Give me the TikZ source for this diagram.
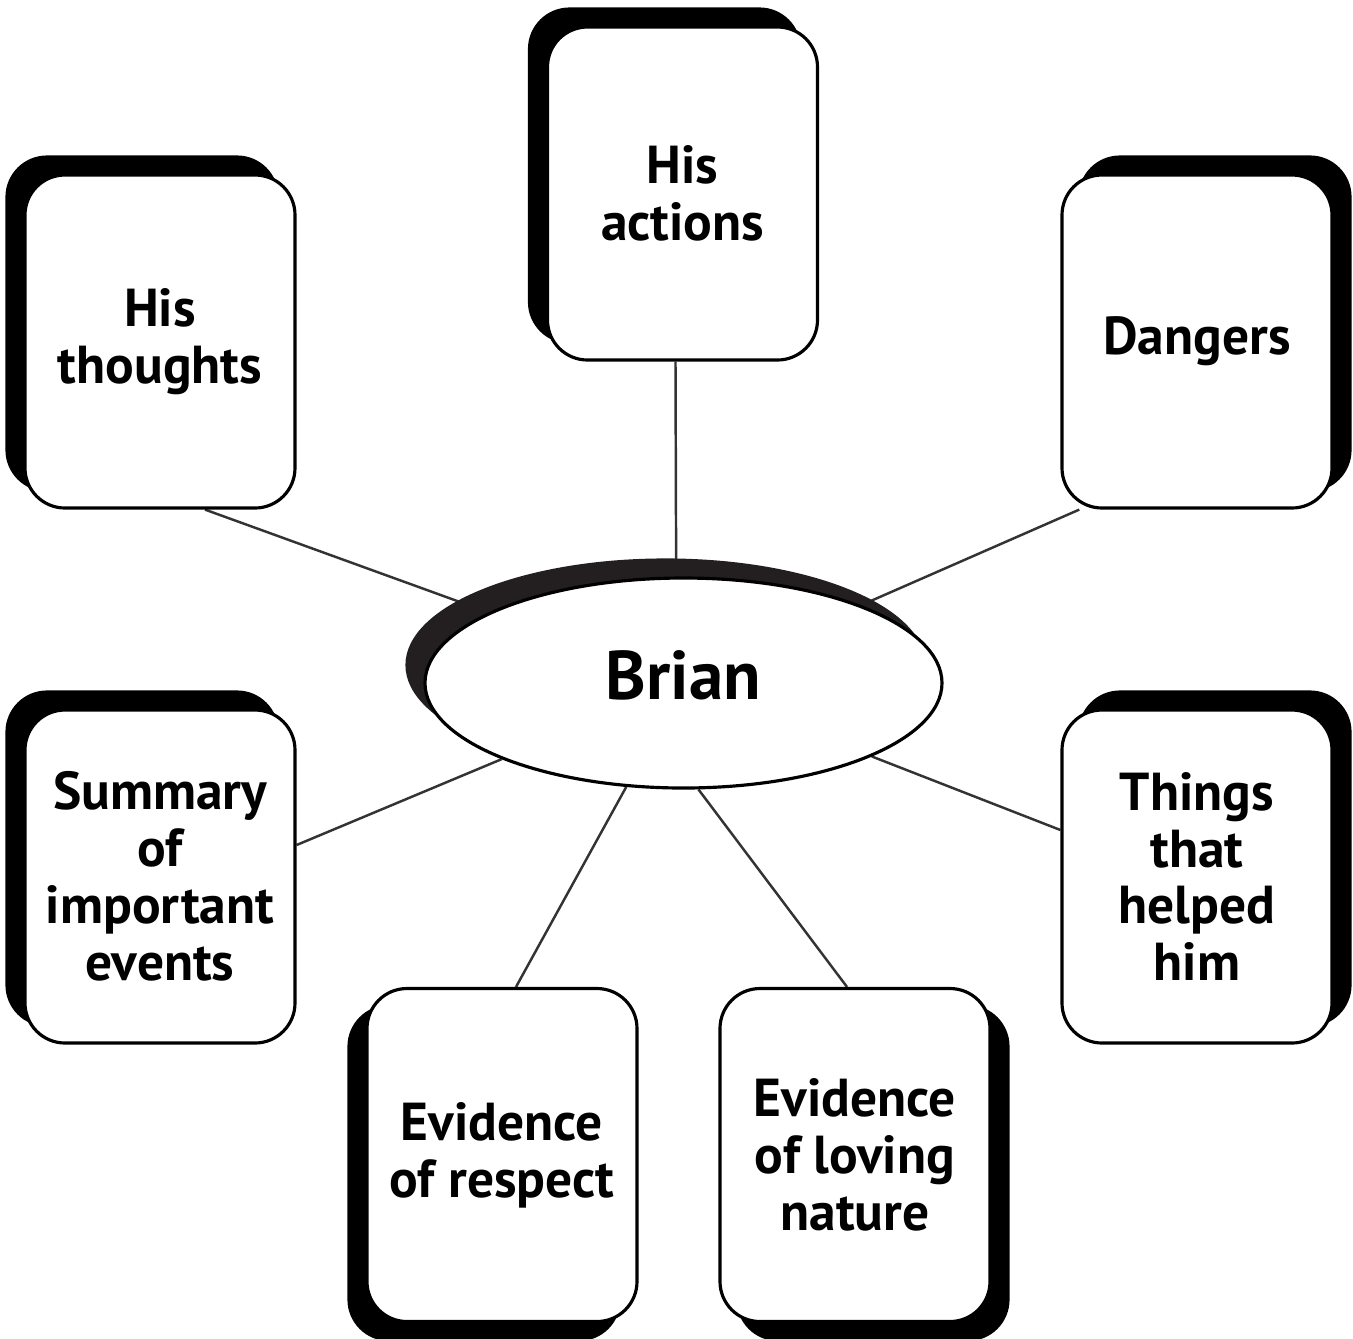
\documentclass[tikz,border=0pt]{standalone}
\usepackage{fontspec}
\setmainfont{PT Sans}
\usepackage{tikz}
\usetikzlibrary{
        backgrounds,
        shadows,
        shapes.geometric
    }
\definecolor{shadowgray}{HTML}{231F20}
\definecolor{linegray}{HTML}{333333}
\tikzset{
    topic/.style={draw, line width=0.9pt, fill=white, rounded corners=0.4cm,
        minimum width=2.7cm, minimum height=3.33cm, inner sep=0pt,
        align=center, font=\fontsize{15.2}{16.2}\selectfont\bfseries},
    shade ul/.style={copy shadow={shadow xshift=-0.18cm, shadow yshift=0.18cm, fill=black, draw=black}},
    shade ur/.style={copy shadow={shadow xshift=0.18cm, shadow yshift=0.18cm, fill=black, draw=black}},
    shade dl/.style={copy shadow={shadow xshift=-0.18cm, shadow yshift=-0.18cm, fill=black, draw=black}},
    shade dr/.style={copy shadow={shadow xshift=0.18cm, shadow yshift=-0.18cm, fill=black, draw=black}},
    hub/.style={ellipse, draw, line width=0.9pt, fill=white, inner sep=0pt,
        minimum width=5.17cm, minimum height=2.10cm,
        font=\fontsize{19.6}{22}\selectfont\bfseries,
        copy shadow={shadow xshift=-0.18cm, shadow yshift=0.18cm, fill=shadowgray, draw=shadowgray}},
    spoke/.style={draw=linegray, line width=0.7pt}
}

\begin{document}
\begin{tikzpicture}[]
    \useasboundingbox (0,0) rectangle (13.53,-13.38);
        \node[hub] (brian) at (6.835,-6.83) {\raisebox{0.16cm}{Brian}};
        \node[topic,shade ul] (thoughts) at (1.60,-3.415)  {His\\thoughts};
        \node[topic,shade ul] (actions)  at (6.825,-1.935) {His\\actions};
        \node[topic,shade ur] (dangers)  at (11.97,-3.415) {Dangers};
        \node[topic,shade ul] (summary)  at (1.60,-8.765)  {Summary\\of\\important\\events};
        \node[topic,shade ur] (things)   at (11.97,-8.765) {Things\\that\\helped\\him};
        \node[topic,shade dl] (respect)  at (5.02,-11.55)  {Evidence\\of respect};
        \node[topic,shade dr] (loving)   at (8.55,-11.55)  {Evidence\\of loving\\nature};
        % spokes behind everything
        \begin{scope}[on background layer]
            \path[spoke]
                    ([xshift=0.45cm]thoughts.south) edge (brian)
                    ([xshift=-0.07cm]actions.south) edge ([xshift=-0.07cm]brian.center)
                    (dangers.-125)                  edge (brian)
                    ([yshift=0.315cm]summary.east)  edge (brian)
                    ([yshift=0.465cm]things.west)   edge (brian)
                    ([xshift=0.14cm]respect.north)  edge (brian)
                    ([xshift=-0.08cm]loving.north)  edge (brian.-82)
                    ;
        \end{scope}
\end{tikzpicture}
\end{document}
